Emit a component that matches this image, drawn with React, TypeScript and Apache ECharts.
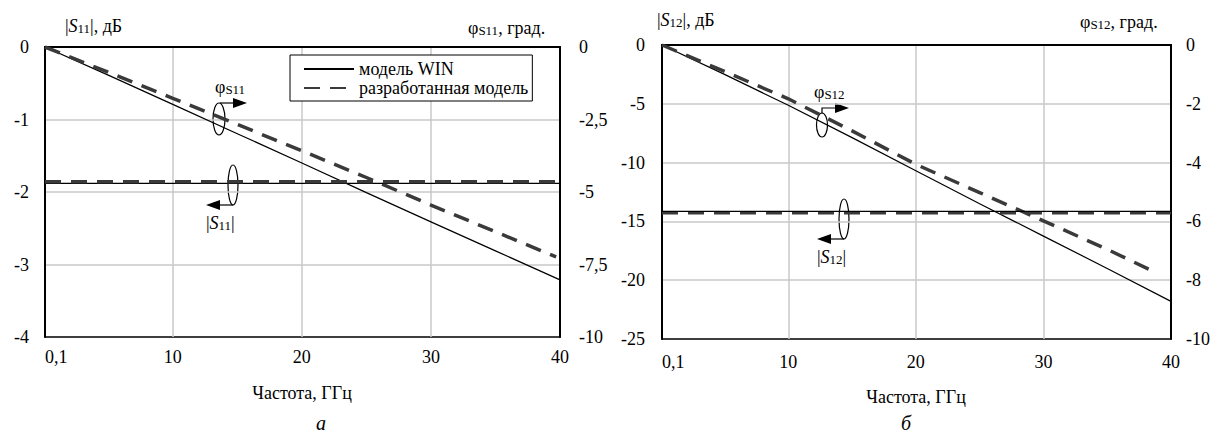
import React, { useEffect, useRef } from 'react';
import * as echarts from 'echarts';

const FONT = "'Liberation Serif', 'Times New Roman', serif";

const legendNames = ['модель WIN', 'разработанная модель'];

// chart a (S11)
const freqA = [0.1, 5, 10, 15, 20, 25, 30, 35, 40];
const s11Win = [-1.88, -1.88, -1.88, -1.88, -1.88, -1.88, -1.88, -1.88, -1.88];
const s11Dev = [-1.86, -1.86, -1.86, -1.86, -1.86, -1.86, -1.86, -1.86, -1.86];
const phiS11Win = [0, -0.97, -1.98, -2.99, -4.0, -5.02, -6.03, -7.03, -8.03];
const freqDevA = [0.1, 5, 10, 15, 20, 25, 30, 35, 39.7];
const phiS11Dev = [0, -0.87, -1.77, -2.67, -3.58, -4.5, -5.45, -6.37, -7.24];

// chart б (S12)
const freqB = [0.1, 5, 10, 15, 20, 25, 30, 35, 40];
const s12Win = [-14.15, -14.15, -14.15, -14.15, -14.15, -14.15, -14.15, -14.15, -14.15];
const s12Dev = [-14.27, -14.27, -14.27, -14.27, -14.27, -14.27, -14.27, -14.27, -14.27];
const phiS12Win = [0, -1.0, -2.05, -3.15, -4.28, -5.4, -6.5, -7.6, -8.72];
const freqDevB = [0.1, 5, 10, 15, 20, 25, 30, 35, 38.9];
const phiS12Dev = [0, -0.9, -1.83, -2.92, -4.06, -5.02, -5.98, -6.95, -7.76];

const zip = (xs: number[], ys: number[]) => xs.map((x, i) => [x, ys[i]]);
const comma = (v: number) => String(v).replace('.', ',');

const solid = { color: '#000', width: 1.2, type: 'solid' as const };
const dashed = { color: '#3a3a3a', width: 3.5, type: [16, 10] as any };

function lineSeries(name: string, xi: number, yi: number, data: number[][], style: any) {
  return {
    name,
    type: 'line',
    xAxisIndex: xi,
    yAxisIndex: yi,
    data,
    symbol: 'none',
    showSymbol: false,
    lineStyle: style,
    itemStyle: { color: style.color },
    silent: true,
  };
}

const labelStyle = { color: '#000', fontFamily: FONT, fontSize: 18 };

function xAxis(gridIndex: number, margin: number) {
  return {
    type: 'value',
    gridIndex,
    min: 0.1,
    max: 40,
    splitNumber: 4,
    axisLine: { show: true, lineStyle: { color: '#000', width: 2 } },
    axisTick: { show: false },
    axisLabel: { ...labelStyle, margin, formatter: (v: number) => comma(v), alignMinLabel: 'left' },
    splitLine: { show: true, showMinLine: false, showMaxLine: false, lineStyle: { color: '#c8c8c8', width: 1.5 } },
  };
}

function yAxis(gridIndex: number, min: number, interval: number, position: 'left' | 'right', margin: number, grid: boolean) {
  return {
    type: 'value',
    gridIndex,
    min,
    max: 0,
    interval,
    position,
    axisLine: { show: true, onZero: false, lineStyle: { color: '#000', width: 2 } },
    axisTick: { show: false },
    axisLabel: { ...labelStyle, margin, formatter: (v: number) => comma(v) },
    splitLine: { show: grid, showMinLine: false, showMaxLine: false, lineStyle: { color: '#c8c8c8', width: 1.5 } },
  };
}

const rich = {
  i: { fontFamily: FONT, fontSize: 18, fontStyle: 'italic', fill: '#000', color: '#000' },
  s: { fontFamily: FONT, fontSize: 13, verticalAlign: 'bottom', fill: '#000', color: '#000' },
};

function rtext(x: number, y: number, text: string) {
  return {
    type: 'text',
    x,
    y,
    silent: true,
    style: {
      text,
      rich,
      fontFamily: FONT,
      fontSize: 18,
      fill: '#000',
      align: 'left',
      verticalAlign: 'middle',
    },
  };
}

function plainText(x: number, y: number, text: string, size: number, italic = false) {
  return {
    type: 'text',
    x,
    y,
    silent: true,
    style: {
      text,
      fontFamily: FONT,
      fontSize: size,
      fontStyle: italic ? 'italic' : 'normal',
      fill: '#000',
      align: 'center',
      verticalAlign: 'middle',
    },
  };
}

function ellipse(cx: number, cy: number, rx: number, ry: number) {
  return {
    type: 'ellipse',
    silent: true,
    shape: { cx, cy, rx, ry },
    style: { fill: 'none', stroke: '#000', lineWidth: 1.2 },
  };
}

function arrow(points: number[][], dir: 'left' | 'right') {
  const last = points[points.length - 1];
  const [x, y] = last;
  const head = dir === 'right'
    ? [[x, y - 5], [x + 14, y], [x, y + 5]]
    : [[x, y - 5], [x - 14, y], [x, y + 5]];
  return [
    { type: 'polyline', silent: true, shape: { points }, style: { stroke: '#000', lineWidth: 1.2, fill: 'none' } },
    { type: 'polygon', silent: true, shape: { points: head }, style: { fill: '#000' } },
  ];
}

const option: any = {
  animation: false,
  backgroundColor: '#fff',
  textStyle: { fontFamily: FONT },
  grid: [
    { left: 45, top: 47, width: 515, height: 290, show: true, borderColor: '#000', borderWidth: 1.3, backgroundColor: 'transparent' },
    { left: 662, top: 45, width: 509, height: 294, show: true, borderColor: '#000', borderWidth: 1.3, backgroundColor: 'transparent' },
  ],
  legend: {
    data: legendNames,
    orient: 'vertical',
    left: 290,
    top: 55,
    itemWidth: 50,
    itemHeight: 14,
    itemGap: 1,
    padding: [5, 4, 4, 13],
    borderColor: '#000',
    borderWidth: 1,
    backgroundColor: '#fff',
    itemStyle: { opacity: 0 },
    textStyle: { color: '#000', fontFamily: FONT, fontSize: 18 },
    selectedMode: false,
  },
  xAxis: [xAxis(0, 11), xAxis(1, 14)],
  yAxis: [
    yAxis(0, -4, 1, 'left', 16, true),
    yAxis(0, -10, 2.5, 'right', 19, false),
    yAxis(1, -25, 5, 'left', 17, true),
    yAxis(1, -10, 2, 'right', 15, false),
  ],
  series: [
    lineSeries(legendNames[0], 0, 1, zip(freqA, phiS11Win), solid),
    lineSeries(legendNames[1], 0, 1, zip(freqDevA, phiS11Dev), dashed),
    lineSeries(legendNames[0], 0, 0, zip(freqA, s11Win), solid),
    lineSeries(legendNames[1], 0, 0, zip(freqA, s11Dev), dashed),
    lineSeries(legendNames[0], 1, 3, zip(freqB, phiS12Win), solid),
    lineSeries(legendNames[1], 1, 3, zip(freqDevB, phiS12Dev), dashed),
    lineSeries(legendNames[1], 1, 2, zip(freqB, s12Dev), dashed),
    lineSeries(legendNames[0], 1, 2, zip(freqB, s12Win), solid),
  ],
  graphic: [
    // axis titles
    rtext(65, 26, '|{i|S}{s|11}|, дБ'),
    rtext(468, 28, 'φ{s|S11}, град.'),
    rtext(657, 20, '|{i|S}{s|12}|, дБ'),
    rtext(1080, 22, 'φ{s|S12}, град.'),
    plainText(302, 393, 'Частота, ГГц', 18),
    plainText(916, 397, 'Частота, ГГц', 18),
    plainText(321, 423, 'а', 20, true),
    plainText(906, 423, 'б', 20, true),
    // annotations chart a
    ellipse(219, 119, 6, 16),
    ...arrow([[220, 103], [233, 103]], 'right'),
    rtext(215, 87, 'φ{s|S11}'),
    ellipse(233, 185, 5, 20),
    ...arrow([[233, 205], [220, 205]], 'left'),
    rtext(206, 223, '|{i|S}{s|11}|'),
    // annotations chart б
    ellipse(822, 125, 5.5, 12),
    ...arrow([[822, 113], [822, 108], [835, 108]], 'right'),
    rtext(814, 92, 'φ{s|S12}'),
    ellipse(844, 219, 5, 20),
    ...arrow([[844, 239], [831, 239]], 'left'),
    rtext(817, 257, '|{i|S}{s|12}|'),
  ],
};

export default function App() {
  const ref = useRef<HTMLDivElement>(null);
  useEffect(() => {
    const chart = echarts.init(ref.current!, null, { renderer: 'svg' });
    chart.setOption(option);
    return () => chart.dispose();
  }, []);
  return (
    <div
      ref={ref}
      style={{ position: 'fixed', left: 0, top: 0, width: 1222, height: 436, background: '#fff' }}
    />
  );
}
